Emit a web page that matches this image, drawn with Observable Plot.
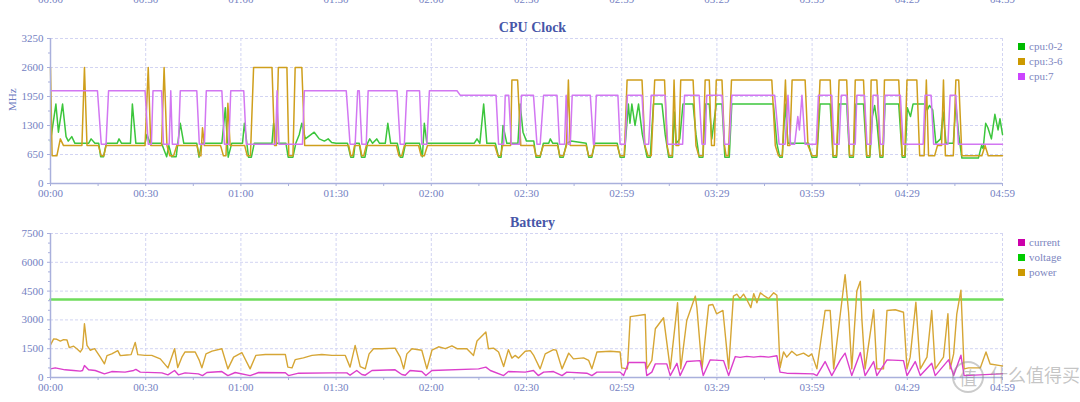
<!DOCTYPE html>
<html><head><meta charset="utf-8">
<script src="https://cdn.jsdelivr.net/npm/d3@7"></script>
<script src="https://cdn.jsdelivr.net/npm/@observablehq/plot@0.6"></script>
<style>
body{margin:0;background:#fff;}
#wrap{position:relative;width:1080px;height:402px;overflow:hidden;background:#fff;}
.abs{position:absolute;left:0;}
.leg{position:absolute;left:1018px;font-family:"Liberation Serif",serif;font-size:11px;color:#7d86c0;line-height:12px;white-space:nowrap;}
.leg i{display:inline-block;width:7px;height:7px;margin-right:4px;vertical-align:0px;}
#wm{position:absolute;left:952px;top:361px;font-family:"Noto Sans CJK SC",sans-serif;color:rgba(140,140,140,0.5);font-size:18px;white-space:nowrap;}
#wm b{display:inline-block;width:28px;height:28px;border:2px solid rgba(140,140,140,0.45);border-radius:50%;text-align:center;line-height:28px;font-weight:normal;margin-right:6px;vertical-align:middle;}
</style></head>
<body>
<div id="wrap">
  <div id="strip" class="abs" style="top:0;width:1080px;height:4px;overflow:hidden"></div>
  <div id="cpu" class="abs" style="top:0"></div>
  <div id="bat" class="abs" style="top:200px"></div>
  <div class="leg" style="top:40px"><i style="background:#00bb00"></i>cpu:0-2</div>
  <div class="leg" style="top:55px"><i style="background:#cc9900"></i>cpu:3-6</div>
  <div class="leg" style="top:70px"><i style="background:#cc44ff"></i>cpu:7</div>
  <div class="leg" style="top:236px"><i style="background:#cc00aa"></i>current</div>
  <div class="leg" style="top:251px"><i style="background:#00cc00"></i>voltage</div>
  <div class="leg" style="top:266px"><i style="background:#cc9900"></i>power</div>
  <div id="wm"><b>值</b>什么值得买</div>
</div>
<script>
// ---- axes ----
const xTicks = [0,30,60,90,120,150,180,210,240,270,300];
const xMinor = [15,45,75,105,135,165,195,225,255,285];
const xLabels = ["00:00","00:30","01:00","01:30","02:00","02:30","02:59","03:29","03:59","04:29","04:59"];
const cpuTicks = [0,650,1300,1950,2600,3250];
const cpuMinor = [325,975,1625,2275,2925];
const batTicks = [0,1500,3000,4500,6000,7500];
const batMinor = [500,1000,2000,2500,3500,4000,5000,5500,6500,7000];

// ---- CPU clock series: [minute, MHz] ----
const cpu02 = [[0,950],[1.7,1780],[2.5,1150],[3.8,1780],[4.9,1050],[5.6,950],[6.7,1050],[7.7,900],[12.0,900],[12.8,1000],[14.0,900],[15.2,900],[15.8,600],[16.7,600],[17.6,900],[21.0,900],[21.6,1000],[22.4,900],[25.2,900],[25.8,1780],[26.9,900],[29.8,900],[30.4,1100],[31.4,900],[35.0,900],[36.6,600],[37.3,850],[38.2,600],[39.6,600],[40.9,1350],[42.0,900],[46.1,900],[46.8,590],[47.6,900],[54.0,900],[55.1,1700],[56.0,590],[57.1,900],[60.5,900],[61.1,1350],[62.4,590],[63.3,590],[64.2,900],[69.8,900],[70.3,1350],[71.1,900],[74.2,900],[74.9,590],[76.4,590],[77.3,900],[78.4,1100],[79.2,1350],[80.3,1000],[83.1,1150],[84.7,1000],[86.3,950],[87.5,1000],[88.6,920],[90.0,900],[93.6,900],[94.6,590],[95.5,590],[96.0,900],[97.3,900],[98.0,590],[99.1,590],[99.9,900],[100.6,1000],[101.5,900],[102.8,1000],[103.7,900],[105.5,900],[106.3,1350],[107.2,900],[109.3,900],[110.2,590],[111.0,590],[111.9,900],[116.3,900],[117.2,600],[117.8,1350],[118.6,900],[133.5,900],[134.4,1000],[135.3,900],[136.5,1780],[137.5,900],[140.2,900],[141.2,590],[142.0,590],[142.6,1300],[143.8,900],[147.3,900],[148.0,1780],[148.9,1150],[150.0,950],[152.3,950],[153.0,590],[154.3,590],[155.3,900],[157.0,900],[157.5,1000],[158.3,900],[159.8,900],[160.5,590],[161.6,590],[162.6,900],[164.0,950],[168.8,900],[169.6,590],[170.6,590],[171.5,900],[178.6,900],[179.5,590],[180.8,590],[182.1,1780],[182.6,1350],[183.2,1780],[184.2,1300],[185.3,1780],[186.5,1100],[188.0,590],[189.0,590],[190.0,1780],[192.7,1780],[193.7,1100],[194.8,590],[196.0,590],[196.6,1600],[197.2,900],[198.3,1000],[199.3,1780],[202.5,1780],[203.4,1100],[204.4,590],[205.6,590],[206.4,1780],[207.6,1780],[208.4,1000],[209.8,1780],[211.6,1780],[212.5,590],[213.9,590],[214.7,1780],[227.8,1780],[228.9,900],[229.8,590],[230.6,590],[231.5,1780],[232.4,900],[238.9,900],[239.9,590],[241.5,590],[242.5,1780],[245.7,1780],[246.6,590],[247.7,590],[248.5,1780],[250.9,1780],[251.8,590],[253.0,590],[253.8,1780],[256.2,1780],[257.2,590],[258.2,590],[259.0,1500],[259.7,1750],[260.4,1400],[261.4,590],[262.3,590],[263.0,1780],[267.3,1780],[268.4,590],[269.3,590],[270.0,1700],[271.0,1500],[271.8,1780],[275.5,1780],[276.3,1650],[277.0,1750],[278.0,1650],[279.0,900],[280.5,1000],[281.3,1600],[282.2,900],[284.5,900],[285.3,1780],[286.2,1100],[287.2,570],[292.4,570],[293.4,850],[293.9,780],[294.7,1350],[295.4,1250],[296.5,1000],[297.6,1550],[298.6,1200],[299.2,1450],[300,1100]];

const cpu36 = [[0,2600],[0.5,620],[2.0,620],[3.1,1000],[4.1,850],[9.9,850],[10.7,2600],[11.5,850],[15.1,850],[16.0,620],[16.8,620],[17.5,850],[29.8,850],[30.8,2600],[31.6,850],[35.0,850],[35.8,2600],[36.7,850],[37.6,620],[38.8,620],[39.8,850],[46.2,850],[46.9,620],[47.4,620],[47.9,1250],[48.5,850],[53.6,850],[54.5,620],[55.3,620],[55.9,1800],[56.6,850],[61.2,850],[62.0,620],[63.0,620],[64.0,2600],[69.8,2600],[70.6,850],[71.2,850],[71.8,2600],[74.5,2600],[75.1,620],[76.4,620],[77.1,2600],[79.2,2600],[80.1,850],[94.0,850],[94.6,620],[95.2,620],[95.8,850],[97.5,850],[98.1,620],[98.7,620],[99.5,850],[109.0,850],[109.8,620],[110.7,620],[111.5,850],[116.0,850],[116.8,620],[117.8,620],[118.8,850],[140.0,850],[141.0,620],[141.8,620],[142.5,850],[145.0,850],[145.4,2320],[147.2,2320],[148.2,850],[152.3,850],[153.0,620],[154.3,620],[155.3,850],[159.8,850],[160.5,620],[161.6,620],[162.6,850],[163.2,2320],[163.8,850],[168.8,850],[169.6,620],[170.6,620],[171.3,850],[178.6,850],[179.5,620],[180.8,620],[181.7,2320],[186.4,2320],[187.3,850],[188.3,620],[189.3,620],[190.4,2320],[193.5,2320],[194.3,850],[195.0,620],[195.9,620],[196.5,2320],[197.1,850],[198.0,850],[198.6,2320],[202.5,2320],[203.4,850],[204.3,620],[205.6,620],[206.3,2320],[207.6,2320],[208.3,850],[209.2,850],[209.8,2320],[211.6,2320],[212.4,850],[212.9,620],[213.6,620],[214.6,2320],[227.3,2320],[228.4,850],[229.4,620],[230.6,620],[231.6,2320],[232.3,850],[233.0,850],[233.7,2320],[237.8,2320],[238.7,850],[240.0,620],[241.5,620],[242.5,2320],[245.7,2320],[246.6,620],[247.7,620],[248.5,2320],[250.9,2320],[251.8,620],[253.0,620],[253.6,2320],[256.2,2320],[257.2,620],[258.2,620],[258.6,2320],[260.4,2320],[261.4,620],[262.3,620],[262.8,2320],[267.3,2320],[268.4,620],[269.2,620],[269.9,2320],[273.0,2320],[273.9,620],[275.3,620],[276.0,2320],[276.7,620],[278.6,620],[279.5,850],[280.8,850],[281.4,2320],[282.0,620],[284.5,620],[285.3,2320],[286.2,2320],[287.2,620],[293.5,620],[294.5,850],[295.5,620],[300,620]];

const cpu7 = [[0,2080],[14.8,2080],[16.0,880],[17.5,880],[18.3,2080],[29.8,2080],[30.8,880],[31.8,880],[32.3,2080],[35.0,2080],[35.6,880],[37.4,880],[37.9,2080],[38.4,880],[40.3,880],[40.9,2080],[46.1,2080],[46.9,880],[48.5,880],[49.1,2080],[54.0,2080],[54.8,880],[56.2,880],[56.8,2080],[60.9,2080],[61.7,880],[70.9,880],[71.4,2080],[72.0,880],[79.4,880],[80.0,2080],[93.2,2080],[94.4,880],[96.0,880],[96.8,2080],[97.3,2080],[98.1,880],[99.5,880],[100.1,2080],[109.2,2080],[110.2,880],[111.5,880],[112.3,2080],[116.3,2080],[117.0,880],[118.6,880],[119.4,2080],[128.1,2080],[129.1,1980],[140.4,1980],[141.2,880],[142.8,880],[143.3,1980],[144.4,1980],[145.2,880],[147.8,880],[148.4,1980],[152.2,1980],[153.3,880],[154.3,880],[155.4,1980],[159.6,1980],[160.4,880],[162.0,880],[162.5,1980],[163.1,880],[163.8,880],[164.4,1980],[170.1,1980],[171.1,880],[171.4,880],[172.0,1980],[178.8,1980],[179.5,880],[181.1,880],[181.8,1980],[186.4,1980],[187.2,880],[188.5,880],[189.3,1980],[193.7,1980],[194.5,880],[199.2,880],[199.8,1980],[204.4,1980],[205.3,880],[206.3,880],[206.8,1980],[211.6,1980],[212.4,880],[213.9,880],[214.7,1980],[228.2,1980],[229.6,880],[231.5,880],[232.4,1980],[233.2,880],[234.5,880],[235.5,1500],[236.0,1200],[236.8,1980],[237.8,880],[241.3,880],[242.0,1980],[246.2,1980],[246.9,880],[248.5,880],[249.2,1980],[250.9,1980],[251.7,880],[253.6,880],[254.1,1980],[256.5,1980],[257.3,880],[258.6,880],[259.2,1980],[260.7,1980],[261.5,880],[262.5,880],[263.0,1980],[267.8,1980],[268.7,880],[275.0,880],[275.6,1980],[277.5,1980],[278.3,880],[282.8,880],[283.5,1980],[285.3,1980],[286.1,880],[300,880]];

// ---- Battery series: [minute, value] ----
const current = [[0,450],[1.5,500],[4.6,400],[7.3,365],[9.4,330],[10.1,365],[10.7,620],[12.0,400],[14.1,365],[17.0,190],[19.3,310],[23.5,280],[26.2,365],[26.9,420],[28.3,280],[35.1,240],[37.0,140],[39.1,365],[40.3,140],[42.4,240],[46.6,190],[47.9,100],[49.3,260],[54.0,310],[55.9,100],[58.2,260],[62.9,100],[65.6,260],[74.0,250],[75.0,100],[78.2,225],[88.7,240],[93.4,240],[94.4,120],[96.5,365],[98.1,155],[99.2,120],[101.3,365],[108.6,400],[110.7,155],[111.8,120],[113.3,365],[117.0,310],[118.3,100],[120.2,365],[134.9,450],[137.2,540],[138.6,365],[142.8,100],[144.3,310],[149.6,280],[152.2,365],[153.7,100],[155.4,280],[158.5,310],[161.2,100],[162.7,280],[169.0,225],[170.6,100],[172.2,280],[179.5,280],[180.6,100],[182.2,780],[187.4,780],[187.9,100],[189.5,280],[190.6,710],[194.2,710],[195.3,100],[197.4,740],[198.4,100],[200.5,830],[204.7,880],[205.7,100],[207.9,920],[212.1,880],[213.7,100],[215.8,1090],[217.3,1050],[219.4,1100],[221.6,1060],[223.7,1100],[226.3,1060],[228.9,1130],[229.9,280],[232.0,225],[240.4,190],[241.5,100],[244.1,830],[246.2,100],[248.9,920],[250.4,1270],[252.5,100],[255.2,1300],[256.7,100],[259.4,830],[260.4,100],[263.6,920],[268.8,880],[269.9,100],[272.5,830],[274.1,100],[277.7,740],[278.8,100],[283.0,920],[284.6,100],[286.9,1160],[287.9,100],[299.3,190],[300,200]];

const voltage = [[0,4060],[300,4060]];

const power = [[0,1700],[1.0,2010],[2.0,1990],[3.1,1900],[4.1,1970],[5.2,1950],[5.9,1560],[7.3,1630],[8.3,1500],[9.4,1330],[10.1,1500],[10.7,2800],[11.5,1670],[12.5,1420],[13.9,1500],[15.7,1060],[17.0,710],[17.8,1140],[19.3,1230],[21.2,1400],[22.0,1140],[24.1,1170],[25.4,1190],[26.7,1830],[27.5,1190],[29.8,1150],[31.9,1150],[34.6,970],[37.0,500],[39.1,1500],[40.1,520],[41.4,1060],[42.4,1330],[45.6,1330],[46.9,890],[47.7,500],[49.0,1230],[50.9,1370],[54.0,1500],[55.9,450],[57.7,1060],[60.3,1300],[62.9,450],[64.7,1150],[67.7,1200],[74.0,1200],[74.8,540],[76.1,500],[77.1,930],[79.7,1020],[82.4,1150],[85.5,1200],[88.7,1150],[92.9,1150],[94.4,540],[96.0,1670],[97.6,570],[99.2,450],[100.4,1230],[101.8,1500],[104.4,1500],[108.6,1530],[110.2,1060],[111.3,450],[112.3,1230],[113.9,1500],[117.0,1420],[118.6,450],[120.2,1420],[122.3,1600],[124.4,1500],[126.5,1650],[128.1,1500],[131.2,1500],[133.3,1150],[134.4,1900],[137.2,2370],[138.0,1500],[139.6,1530],[141.2,1330],[142.8,570],[144.3,1450],[145.4,1010],[146.4,1150],[147.5,1010],[149.6,1370],[151.2,1400],[152.2,1170],[154.3,450],[155.9,1230],[158.5,1450],[159.4,1420],[161.2,450],[163.3,1270],[164.8,970],[168.0,1020],[169.6,890],[170.6,450],[172.2,1330],[176.4,1370],[179.5,1330],[180.0,500],[181.8,450],[182.7,3170],[187.4,3280],[187.9,450],[189.5,890],[190.6,2540],[193.2,3110],[195.3,450],[197.6,3890],[198.6,450],[200.5,2970],[203.2,4240],[203.7,3640],[205.3,450],[207.4,3760],[208.7,3800],[209.9,3320],[211.9,3490],[213.7,450],[215.2,4240],[216.3,4340],[217.3,4110],[218.4,4340],[219.4,4060],[220.7,3640],[221.6,4370],[222.6,3890],[223.7,4410],[224.7,4280],[226.3,4110],[227.9,4410],[228.9,4280],[229.9,500],[231.0,1330],[232.0,1060],[233.6,1370],[235.2,1150],[237.3,1270],[238.9,1100],[239.9,1230],[241.5,450],[244.1,3490],[245.7,3490],[246.8,450],[248.9,3320],[250.4,5360],[251.5,3400],[252.5,450],[254.1,4510],[255.2,5010],[255.7,3000],[256.7,450],[259.4,3530],[260.4,450],[262.5,450],[263.6,3490],[266.2,3530],[268.8,3400],[269.9,450],[270.9,1060],[272.7,3920],[274.1,450],[276.2,1060],[277.7,3490],[278.8,450],[281.4,1060],[282.8,3320],[283.5,450],[284.6,1230],[285.6,3320],[286.9,4550],[287.9,450],[289.3,500],[293.0,500],[294.8,1330],[296.1,700],[299.3,620],[300,600]];

// ---- styling ----
const AX = "#a9b0dc", TXT = "#7481c2", GRID = "#d2d4f2", TITLE = "#4656a8";
const fmtX = d => xLabels[xTicks.indexOf(d)];
const fmtY = d => String(d);
const baseStyle = {fontFamily:"'Liberation Serif', serif", fontSize:"11px", color:TXT, background:"transparent", overflow:"visible"};

function chart({height, mt, mb, yDomain, yTicks, yMinor, title, ylabel, series}) {
  const marks = [
    Plot.gridX(xTicks.slice(1), {stroke:GRID, strokeOpacity:1, strokeDasharray:"3,2"}),
    Plot.gridY(yTicks.slice(1), {stroke:GRID, strokeOpacity:1, strokeDasharray:"3,2"}),
    ...series.map(s => Plot.line(s.data, {x:d=>d[0], y:d=>d[1], stroke:s.color, strokeWidth:s.w||1.5, strokeOpacity:s.o||1, strokeLinejoin:"round"})),
    Plot.ruleX([0], {stroke:AX, strokeWidth:1.5}),
    Plot.ruleY([0], {stroke:AX, strokeWidth:1.5}),
    Plot.axisY(yTicks, {tickSize:3, tickPadding:4, stroke:AX, fill:TXT, tickFormat:fmtY, label:null}),
    Plot.axisY(yMinor, {tickSize:2, stroke:AX, tickFormat:()=>"", label:null}),
    Plot.axisX(xTicks, {tickSize:3, tickPadding:3, stroke:AX, fill:TXT, tickFormat:fmtX, label:null}),
    Plot.axisX(xMinor, {tickSize:3, stroke:AX, tickFormat:()=>"", label:null}),
    Plot.text([title], {frameAnchor:"top", dy:-16, dx:6, fill:TITLE, fontWeight:"bold", fontSize:14, fontFamily:"'Liberation Serif', serif"})
  ];
  if (ylabel) marks.push(Plot.text([ylabel], {frameAnchor:"left", dx:-38, rotate:-90, fill:"#6a78c0", fontSize:11}));
  return Plot.plot({
    width:1080, height, marginTop:mt, marginBottom:mb, marginLeft:50, marginRight:78,
    style:baseStyle,
    x:{domain:[0,300], axis:null, label:null},
    y:{domain:yDomain, axis:null, label:null},
    marks
  });
}

document.getElementById("cpu").append(chart({
  height:200, mt:38, mb:17, yDomain:[0,3250], yTicks:cpuTicks, yMinor:cpuMinor,
  title:"CPU Clock", ylabel:"MHz",
  series:[
    {data:cpu02, color:"#3cc63c"},
    {data:cpu36, color:"#cf9f1c"},
    {data:cpu7, color:"#d277f2"}
  ]
}));

document.getElementById("bat").append(chart({
  height:202, mt:33, mb:25, yDomain:[0,7500], yTicks:batTicks, yMinor:batMinor,
  title:"Battery", ylabel:null,
  series:[
    {data:voltage, color:"#6fdc5c", w:2.5},
    {data:power, color:"#d6a635", w:1.4},
    {data:current, color:"#dc3fcc", w:1.4}
  ]
}));

// cut-off axis labels of the chart above (only the bottom of the labels shows)
const strip = Plot.plot({
  width:1080, height:30, marginTop:10, marginBottom:20, marginLeft:50, marginRight:78,
  style:baseStyle,
  x:{domain:[0,300], axis:null, label:null},
  marks:[Plot.axisX(xTicks, {tickSize:0, tickPadding:3, fill:TXT, tickFormat:fmtX, label:null})]
});
strip.style.marginTop = "-18px";
strip.style.display = "block";
document.getElementById("strip").append(strip);
</script>
</body></html>
